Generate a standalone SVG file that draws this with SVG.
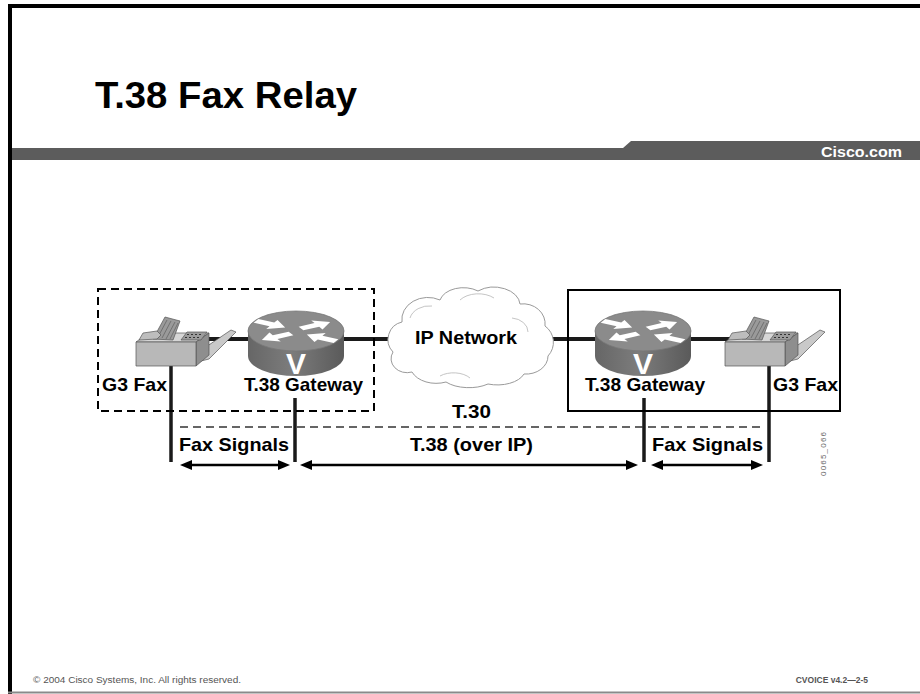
<svg xmlns="http://www.w3.org/2000/svg" xmlns:xlink="http://www.w3.org/1999/xlink" width="920" height="694" viewBox="0 0 920 694">
  <style>
    .lbl { font-family: "Liberation Sans", Arial, sans-serif; font-weight: bold; font-size: 19px; fill: #000; }
    .link { stroke: #1a1a1a; stroke-width: 4; fill: none; }
    .drop { stroke: #1a1a1a; stroke-width: 3.5; fill: none; }
    .span { stroke: #000; stroke-width: 2.5; fill: none; marker-start: url(#ah); marker-end: url(#ah); }
    .foot { font-family: "Liberation Sans", Arial, sans-serif; font-size: 8.5px; fill: #555; }
  </style>
  <defs>
    <marker id="ah" viewBox="0 0 12 10" refX="2" refY="5" markerWidth="12" markerHeight="10" orient="auto-start-reverse" markerUnits="userSpaceOnUse">
      <path d="M0,0 L12,5 L0,10 Z" fill="#000"/>
    </marker>
    <linearGradient id="rside" x1="0" y1="0" x2="1" y2="0">
      <stop offset="0" stop-color="#666"/>
      <stop offset="0.45" stop-color="#7c7c7c"/>
      <stop offset="1" stop-color="#5a5a5a"/>
    </linearGradient>
    <path id="rarrow" d="M0,-5 H18 V-12 L33,0 L18,12 V5 H0 Z" fill="#fff"/>
    <!-- voice router icon, origin at centre of top face -->
    <g id="router">
      <path d="M-48,0 V25 A48,20 0 0 0 48,25 V0 Z" fill="url(#rside)"/>
      <ellipse cx="0" cy="0" rx="48" ry="20" fill="#8b8b8b" stroke="#777" stroke-width="0.8"/>
      <g transform="scale(1,0.42)">
        <use xlink:href="#rarrow" transform="translate(-40,-24) rotate(28)"/>
        <use xlink:href="#rarrow" transform="translate(5,-6) rotate(-28)"/>
        <use xlink:href="#rarrow" transform="translate(-5,6) rotate(152)"/>
        <use xlink:href="#rarrow" transform="translate(40,24) rotate(208)"/>
      </g>
      <text x="0" y="43" text-anchor="middle" font-family="Liberation Sans, Arial, sans-serif" font-weight="bold" font-size="30" fill="#fff">V</text>
    </g>
    <!-- G3 fax machine icon, origin at top-left -->
    <g id="fax" stroke="#555" stroke-width="0.7" stroke-linejoin="round">
      <polygon points="62,38 96,15 101,17 74,44 62,47" fill="#c9c9c9"/>
      <polygon points="1,27 14,18 74,18 61,27" fill="#d6d6d6"/>
      <polygon points="61,27 74,18 74,40 61,51" fill="#8e8e8e"/>
      <rect x="1" y="27" width="60" height="24" fill="#b8b8b8"/>
      <polygon points="18,24 30,2 45,6 38,25" fill="#9a9a9a"/>
      <path d="M23,22 L32,5 M27,23 L36,6 M31,24 L40,7 M35,24 L43,8" stroke="#666" stroke-width="0.8"/>
      <path d="M4,25 L8,18 L22,16 L26,20 L22,24 Z" fill="#bdbdbd"/>
      <polygon points="46,25 52,17 72,17 66,25" fill="#9c9c9c"/>
      <path d="M50,22.5 h2 M54,22.5 h2 M58,22.5 h2 M62,22.5 h2 M52,19.5 h2 M56,19.5 h2 M60,19.5 h2 M64,19.5 h2" stroke="#333" stroke-width="1.2"/>
    </g>
  </defs>

  <!-- page frame -->
  <rect x="0" y="0" width="920" height="694" fill="#fff"/>
  <path d="M10,694 V6 H920" fill="none" stroke="#000" stroke-width="4"/>
  <line x1="8" y1="692.5" x2="920" y2="692.5" stroke="#8a8a8a" stroke-width="2"/>

  <!-- title and header bar -->
  <text x="95" y="108" font-family="Liberation Sans, Arial, sans-serif" font-weight="bold" font-size="37" textLength="262" lengthAdjust="spacingAndGlyphs" fill="#000">T.38 Fax Relay</text>
  <polygon points="12,148 623,148 631,141 920,141 920,160 12,160" fill="#5c5c5c"/>
  <text x="821" y="157" font-family="Liberation Sans, Arial, sans-serif" font-weight="bold" font-size="15" textLength="81" lengthAdjust="spacingAndGlyphs" fill="#fff">Cisco.com</text>

  <!-- connectors -->
  <g id="connectors">
    <line class="link" x1="200" y1="339" x2="390" y2="339"/>
    <line class="link" x1="548" y1="339" x2="770" y2="339"/>
    <line class="drop" x1="171" y1="366" x2="171" y2="462"/>
    <line class="drop" x1="295" y1="398" x2="295" y2="462"/>
    <line class="drop" x1="644" y1="398" x2="644" y2="462"/>
    <line class="drop" x1="769" y1="366" x2="769" y2="462"/>
    <line x1="180" y1="427" x2="763" y2="427" stroke="#333" stroke-width="1.3" stroke-dasharray="8,5"/>
    <line class="span" x1="190" y1="465" x2="280" y2="465"/>
    <line class="span" x1="310" y1="465" x2="628" y2="465"/>
    <line class="span" x1="661" y1="465" x2="753" y2="465"/>
    <text class="lbl" x="452" y="418" textLength="39" lengthAdjust="spacingAndGlyphs">T.30</text>
    <text class="lbl" x="179" y="451" textLength="110" lengthAdjust="spacingAndGlyphs">Fax Signals</text>
    <text class="lbl" x="410" y="451" textLength="123" lengthAdjust="spacingAndGlyphs">T.38 (over IP)</text>
    <text class="lbl" x="652" y="451" textLength="111" lengthAdjust="spacingAndGlyphs">Fax Signals</text>
  </g>

  <!-- site boundaries -->
  <g id="site-left">
    <rect x="98" y="289" width="276" height="122" fill="none" stroke="#000" stroke-width="2" stroke-dasharray="8,5"/>
  </g>
  <g id="site-right">
    <rect x="568" y="290" width="272" height="121" fill="none" stroke="#000" stroke-width="2"/>
  </g>

  <!-- IP cloud -->
  <g id="ip-network">
    <path d="M393,352 A18,18 0 0 1 402,322 A26,22 0 0 1 440,300 A24,16 0 0 1 478,291 A26,18 0 0 1 520,304 A22,20 0 0 1 545,326 A20,20 0 0 1 548,356 A22,18 0 0 1 524,374 A28,16 0 0 1 488,384 A30,16 0 0 1 446,382 A26,18 0 0 1 412,372 A16,14 0 0 1 393,352 Z" fill="#fff" stroke="#9a9a9a" stroke-width="1"/>
    <path d="M410,318 A20,16 0 0 1 432,306 M460,300 A22,14 0 0 1 494,298 M512,318 A18,14 0 0 1 528,332 M440,376 A20,12 0 0 1 470,378" fill="none" stroke="#b5b5b5" stroke-width="0.8"/>
    <text class="lbl" x="415" y="344" textLength="102" lengthAdjust="spacingAndGlyphs">IP Network</text>
  </g>

  <!-- endpoints -->
  <g id="fax-left">
    <use xlink:href="#fax" transform="translate(135,315)"/>
    <text class="lbl" x="102" y="391" textLength="65" lengthAdjust="spacingAndGlyphs">G3 Fax</text>
  </g>
  <g id="gateway-left">
    <use xlink:href="#router" transform="translate(296,331)"/>
    <text class="lbl" x="244" y="391" textLength="119" lengthAdjust="spacingAndGlyphs">T.38 Gateway</text>
  </g>
  <g id="gateway-right">
    <use xlink:href="#router" transform="translate(643,331)"/>
    <text class="lbl" x="585" y="391" textLength="120" lengthAdjust="spacingAndGlyphs">T.38 Gateway</text>
  </g>
  <g id="fax-right">
    <use xlink:href="#fax" transform="translate(724,315)"/>
    <text class="lbl" x="773" y="391" textLength="65" lengthAdjust="spacingAndGlyphs">G3 Fax</text>
  </g>

  <!-- figure id and footer -->
  <text transform="translate(826,476) rotate(-90)" font-family="Liberation Sans, Arial, sans-serif" font-size="8" textLength="44" fill="#666">0065_066</text>
  <text class="foot" x="33" y="683" textLength="208" lengthAdjust="spacingAndGlyphs">© 2004 Cisco Systems, Inc. All rights reserved.</text>
  <text class="foot" x="868" y="683" text-anchor="end" font-weight="bold" fill="#444">CVOICE v4.2—2-5</text>
</svg>
